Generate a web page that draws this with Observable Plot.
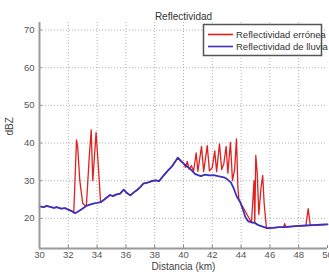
<!DOCTYPE html>
<html>
<head>
<meta charset="utf-8">
<script src="https://cdn.jsdelivr.net/npm/d3@7"></script>
<script src="https://cdn.jsdelivr.net/npm/@observablehq/plot@0.6"></script>
<style>
  html, body { margin: 0; padding: 0; background: #fff; }
  #chart { width: 329px; height: 275px; }
</style>
</head>
<body>
<div id="chart"></div>
<script>
const titleText = "Reflectividad";
const xLabel = "Distancia (km)";
const yLabel = "dBZ";
const seriesNames = ["Reflectividad errónea", "Reflectividad de lluvia"];
const xTicks = [30, 32, 34, 36, 38, 40, 42, 44, 46, 48, 50];
const yTicks = [20, 30, 40, 50, 60, 70];

// Reflectividad de lluvia (blue)
const rainKm = [30.0, 30.3, 30.5, 30.8, 31.0, 31.2, 31.5, 31.8, 32.0, 32.2, 32.45, 32.6, 32.85, 33.1, 33.3, 33.55, 33.8, 34.0, 34.25, 34.5, 34.7, 34.9, 35.1, 35.3, 35.6, 35.85, 36.05, 36.3, 36.55, 36.8, 37.0, 37.2, 37.5, 37.9, 38.1, 38.3, 38.6, 38.9, 39.2, 39.45, 39.6, 39.8, 40.0, 40.3, 40.5, 40.8, 41.0, 41.2, 41.5, 41.8, 42.1, 42.4, 42.8, 43.0, 43.3, 43.5, 43.7, 43.95, 44.15, 44.3, 44.5, 44.75, 44.95, 45.2, 45.5, 45.8, 46.2, 46.6, 47.0, 47.5, 48.0, 48.5, 49.0, 49.5, 50.0];
const rainDbz = [23.2, 23.0, 23.3, 23.0, 22.8, 23.0, 22.6, 22.7, 22.3, 22.0, 21.4, 21.6, 22.2, 22.9, 23.4, 23.7, 24.0, 24.1, 24.3, 25.0, 25.6, 26.2, 25.9, 26.3, 26.6, 27.6, 26.8, 26.1, 26.9, 27.6, 28.3, 29.2, 29.5, 30.0, 30.1, 29.9, 31.3, 32.6, 33.8, 35.2, 36.1, 35.3, 34.6, 33.6, 33.0, 31.8, 31.5, 31.2, 31.6, 31.4, 31.5, 31.2, 30.9, 30.5, 29.5, 27.8, 25.8, 24.2, 22.1, 20.3, 19.2, 18.9, 18.8, 18.2, 17.8, 17.4, 17.5, 17.7, 17.7, 17.9, 18.0, 18.1, 18.2, 18.3, 18.4];

// Reflectividad errónea (red): equals rain except in clutter groups
const clutterGroup = [1, 1, 1, 1, 1, 1, 1, 1, 1, 1, 1, 1, 1,
  2, 2, 2, 2, 2, 2, 2, 2, 2, 2, 2, 2, 2, 2, 2, 2, 2, 2, 2, 2, 2, 2, 2, 2, 2, 2, 2, 2, 2,
  3, 3, 3, 3, 3, 3, 3, 3, 3,
  4, 4, 4,
  5, 5, 5];
const clutterKm = [32.38, 32.57, 32.65, 32.8, 33.0, 33.2, 33.26, 33.45, 33.59, 33.7, 33.93, 34.1, 34.24,
  40.0, 40.15, 40.26, 40.4, 40.55, 40.7, 40.88, 41.0, 41.25, 41.4, 41.65, 41.8, 42.0, 42.17, 42.3, 42.5, 42.65, 42.8, 42.96, 43.08, 43.26, 43.4, 43.55, 43.68, 43.78, 43.85, 43.95,
  44.72, 44.9, 45.02, 45.12, 45.23, 45.38, 45.5, 45.6, 45.76,
  46.95, 47.03, 47.1,
  48.5, 48.66, 48.8];
const clutterDbz = [21.5, 40.8, 39.0, 30.0, 24.0, 23.2, 23.6, 36.0, 43.5, 30.0, 42.8, 33.0, 24.3,
  34.6, 33.5, 35.1, 33.0, 34.0, 32.5, 37.4, 32.5, 39.1, 32.4, 39.3, 32.6, 33.5, 37.9, 32.4, 39.8, 33.0, 34.5, 39.1, 32.0, 40.2, 30.0, 33.0, 41.1, 28.0, 25.0, 24.2,
  18.9, 30.0, 36.7, 32.0, 21.0, 28.0, 31.4, 24.0, 17.4,
  17.7, 18.6, 17.7,
  18.1, 22.6, 18.2];

const colors = ["#e0201f", "#3b30bd"];
const rainData = rainKm.map((x, i) => ({x, y: rainDbz[i]}));
const clutterData = clutterKm.map((x, i) => ({x, y: clutterDbz[i], g: clutterGroup[i]}));
const groups = d3.groups(clutterData, d => d.g).map(([, pts]) => d3.extent(pts, d => d.x));
const errData = rainData
  .filter(d => !groups.some(([a, b]) => d.x >= a && d.x <= b))
  .concat(clutterData)
  .sort((a, b) => a.x - b.x);

const yMin = 12, yMax = 72;
const font = "'Liberation Sans', Arial, Helvetica, sans-serif";

const plot = Plot.plot({
  width: 329,
  height: 275,
  marginTop: 22,
  marginBottom: 27,
  marginLeft: 39,
  marginRight: 2,
  style: {fontFamily: font, fontSize: "9.5px", background: "#fff", color: "#555"},
  x: {domain: [30, 50]},
  y: {domain: [yMin, yMax]},
  marks: [
    Plot.ruleX(xTicks.slice(1, -1), {stroke: "#b0b0b0", strokeDasharray: "1,2", strokeWidth: 1}),
    Plot.ruleY(yTicks, {stroke: "#b0b0b0", strokeDasharray: "1,2", strokeWidth: 1}),
    Plot.ruleX(xTicks, {y1: yMin, y2: yMin + 0.8, stroke: "#888"}),
    Plot.ruleY(yTicks, {x1: 30, x2: 30.2, stroke: "#888"}),
    Plot.line(errData, {x: "x", y: "y", stroke: colors[0], strokeWidth: 1.3}),
    Plot.line(rainData, {x: "x", y: "y", stroke: colors[1], strokeWidth: 1.8}),
    Plot.ruleX([30], {stroke: "#9a9a9a", strokeWidth: 2}),
    Plot.ruleY([yMin], {stroke: "#9a9a9a", strokeWidth: 2}),
    Plot.axisX(xTicks, {tickSize: 0, tickPadding: 3, label: null, fill: "#555", fontSize: 9.5}),
    Plot.axisY(yTicks, {tickSize: 0, tickPadding: 5, label: null, fill: "#555", fontSize: 9.5}),
    Plot.text([titleText], {frameAnchor: "top", dy: -10, fill: "#333", fontSize: 10}),
    Plot.text([xLabel], {frameAnchor: "bottom", dy: 21, fill: "#444", fontSize: 10}),
    Plot.text([yLabel], {frameAnchor: "left", dx: -30, rotate: -90, fill: "#444", fontSize: 10})
  ]
});

document.getElementById("chart").appendChild(plot);

// Legend box inside the plot area
const svg = d3.select(plot);
const lg = svg.append("g").attr("font-family", font).attr("font-size", 9.5).attr("text-anchor", "start");
lg.append("rect").attr("x", 203.5).attr("y", 24.5).attr("width", 118).attr("height", 31)
  .attr("fill", "#fff").attr("stroke", "#555").attr("stroke-width", 1.5);
seriesNames.forEach((name, i) => {
  const yy = 34.5 + i * 12;
  lg.append("line").attr("x1", 208).attr("x2", 233).attr("y1", yy).attr("y2", yy)
    .attr("stroke", colors[i]).attr("stroke-width", 1.6);
  lg.append("text").attr("x", 236).attr("y", yy).attr("dy", "0.35em")
    .attr("fill", "#333").text(name);
});
</script>
</body>
</html>
